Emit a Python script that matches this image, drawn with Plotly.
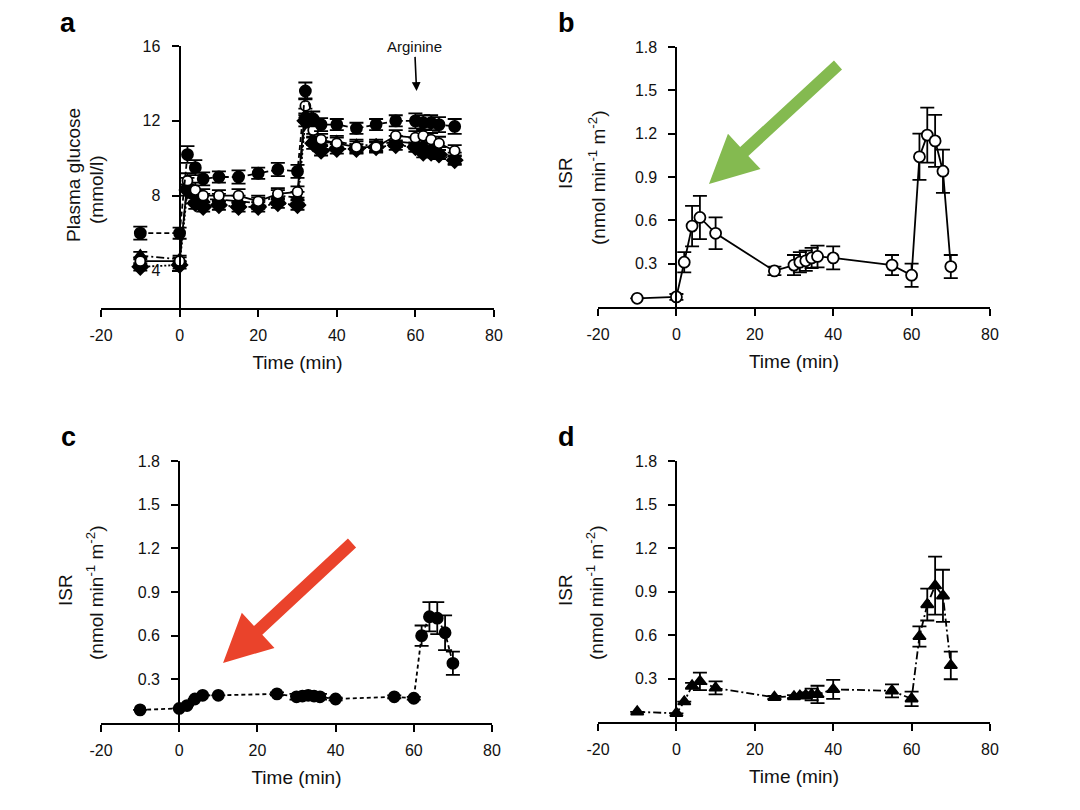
import math
import plotly.graph_objects as go

# time points (min)
t_glu = [-10, 0, 2, 4, 6, 10, 15, 20, 25, 30, 32, 34, 36, 40, 45, 50, 55, 60, 62, 64, 66, 70]
t_isr = [-10, 0, 2, 4, 6, 10, 25, 30, 31.5, 33, 34.5, 36, 40, 55, 60, 62, 64, 66, 68, 70]

# panel a - plasma glucose (mmol/l)
glu_circ = [6.0, 6.0, 10.2, 9.5, 8.9, 9.0, 9.0, 9.2, 9.4, 9.3, 13.6, 12.1, 11.8, 11.8, 11.6, 11.8, 12.0, 12.0, 11.9, 11.9, 11.8, 11.7]
glu_circ_err = [0.35, 0.3, 0.45, 0.4, 0.35, 0.3, 0.35, 0.3, 0.35, 0.35, 0.45, 0.4, 0.35, 0.3, 0.3, 0.3, 0.3, 0.4, 0.4, 0.4, 0.4, 0.4]
glu_open = [4.5, 4.5, 8.8, 8.3, 8.0, 8.0, 8.0, 7.7, 8.1, 8.2, 12.8, 11.5, 11.0, 10.8, 10.6, 10.6, 11.2, 11.1, 11.2, 11.0, 10.8, 10.4]
glu_open_err = [0.2, 0.2, 0.4, 0.4, 0.35, 0.3, 0.35, 0.3, 0.3, 0.3, 0.4, 0.35, 0.3, 0.3, 0.3, 0.3, 0.3, 0.35, 0.35, 0.35, 0.35, 0.3]
glu_tri = [4.8, 4.6, 8.6, 8.0, 7.8, 7.8, 7.7, 7.6, 8.0, 7.9, 12.3, 11.0, 10.8, 10.9, 10.7, 10.7, 10.9, 10.8, 10.7, 10.5, 10.3, 10.0]
glu_tri_err = [0.2, 0.2, 0.35, 0.3, 0.3, 0.3, 0.3, 0.3, 0.3, 0.3, 0.35, 0.3, 0.3, 0.3, 0.3, 0.3, 0.3, 0.3, 0.3, 0.3, 0.3, 0.3]
glu_dia = [4.2, 4.3, 8.3, 7.6, 7.4, 7.5, 7.4, 7.4, 7.6, 7.5, 12.0, 10.8, 10.4, 10.5, 10.5, 10.6, 10.7, 10.6, 10.3, 10.3, 10.2, 9.9]
glu_dia_err = [0.2, 0.2, 0.3, 0.3, 0.25, 0.25, 0.25, 0.25, 0.25, 0.25, 0.3, 0.3, 0.25, 0.25, 0.25, 0.25, 0.25, 0.25, 0.25, 0.25, 0.25, 0.25]

# panels b-d - insulin secretion rate (nmol min-1 m-2)
isr_b = [0.06, 0.07, 0.31, 0.56, 0.62, 0.51, 0.25, 0.29, 0.31, 0.32, 0.34, 0.35, 0.34, 0.29, 0.22, 1.04, 1.19, 1.15, 0.94, 0.28]
isr_b_err = [0.0, 0.02, 0.07, 0.14, 0.15, 0.11, 0.03, 0.07, 0.07, 0.07, 0.07, 0.075, 0.08, 0.07, 0.08, 0.16, 0.19, 0.18, 0.15, 0.08]
isr_c = [0.09, 0.10, 0.12, 0.165, 0.19, 0.19, 0.20, 0.18, 0.185, 0.19, 0.185, 0.18, 0.165, 0.18, 0.17, 0.60, 0.73, 0.72, 0.62, 0.41]
isr_c_err = [0, 0, 0, 0, 0, 0, 0.01, 0.02, 0.02, 0.03, 0.02, 0.02, 0.01, 0.01, 0.01, 0.07, 0.10, 0.11, 0.12, 0.08]
isr_d = [0.07, 0.06, 0.14, 0.25, 0.28, 0.235, 0.17, 0.175, 0.18, 0.185, 0.19, 0.19, 0.225, 0.215, 0.16, 0.59, 0.81, 0.94, 0.87, 0.39]
isr_d_err = [0, 0, 0, 0.02, 0.06, 0.045, 0.01, 0.01, 0.01, 0.02, 0.04, 0.06, 0.065, 0.045, 0.05, 0.07, 0.11, 0.20, 0.18, 0.095]

x_ticks = [-20, 0, 20, 40, 60, 80]
x_ticktext = ['-20', '0', '20', '40', '60', '80']
glu_ticks = [4, 8, 12, 16]
isr_ticks = [0.3, 0.6, 0.9, 1.2, 1.5, 1.8]

# the page body adds an 8px margin, so the figure is 8px smaller than the window on each side
OFF = 8
W, H = 1080 - OFF, 810 - OFF
FONT = 'Liberation Sans, Arial, sans-serif'
INK = '#111111'


def px_x(px):
    return (px - OFF) / W


def px_y(py):
    return 1 - (py - OFF) / H


# panel domains in paper units (x0, x1, y0, y1), from window pixel positions
dom = {
    '': (px_x(101), px_x(494), px_y(308), px_y(46)),
    '2': (px_x(598), px_x(990), px_y(307), px_y(47)),
    '3': (px_x(101), px_x(492), px_y(723), px_y(461)),
    '4': (px_x(598), px_x(990), px_y(722), px_y(461)),
}

fig = go.Figure()


def add_series(sfx, x, y, err, symbol, dash, fill='black', size=10, width=1.8):
    fig.add_trace(go.Scatter(
        x=x, y=y, mode='lines+markers', xaxis='x' + sfx, yaxis='y' + sfx,
        line=dict(color='black', width=width, dash=dash),
        marker=dict(symbol=symbol, size=size, color=fill, line=dict(color='black', width=1.8)),
        error_y=dict(type='data', array=err, visible=True, color='black', thickness=1.8, width=7),
        showlegend=False, hoverinfo='x+y'))


# panel a
add_series('', t_glu, glu_dia, glu_dia_err, 'diamond', '2px,2px', size=12)
add_series('', t_glu, glu_tri, glu_tri_err, 'triangle-up', '8px,3px,2px,3px', size=11)
add_series('', t_glu, glu_open, glu_open_err, 'circle', 'solid', fill='white', size=10)
add_series('', t_glu, glu_circ, glu_circ_err, 'circle', '5px,3px', size=11)
# panels b, c, d
add_series('2', t_isr, isr_b, isr_b_err, 'circle', 'solid', fill='white', size=11)
add_series('3', t_isr, isr_c, isr_c_err, 'circle', '4px,3px', size=11)
add_series('4', t_isr, isr_d, isr_d_err, 'triangle-up', '8px,3px,2px,3px', size=11)

layout = dict(
    width=W, height=H, margin=dict(l=0, r=0, t=0, b=0, autoexpand=False),
    paper_bgcolor='white', plot_bgcolor='white',
    font=dict(family=FONT, color=INK, size=16),
    showlegend=False,
)

for sfx, (x0, x1, y0, y1) in dom.items():
    glu = sfx == ''
    layout['xaxis' + sfx] = dict(
        domain=[x0, x1], range=[-20, 80], anchor='y' + sfx, automargin=False,
        tickvals=x_ticks, ticktext=x_ticktext,
        showline=True, linecolor='black', linewidth=2,
        ticks='outside', ticklen=7, tickwidth=2, tickcolor='black',
        ticklabelstandoff=5,
        showgrid=False, zeroline=False,
        title=dict(text='Time (min)', font=dict(size=19), standoff=12),
        tickfont=dict(size=16),
    )
    layout['yaxis' + sfx] = dict(
        domain=[y0, y1], range=[2, 16] if glu else [0, 1.8], automargin=False,
        anchor='free', position=x0 + 0.2 * (x1 - x0), side='left',
        tickvals=glu_ticks if glu else isr_ticks,
        ticktext=[str(v) for v in (glu_ticks if glu else isr_ticks)],
        showline=True, linecolor='black', linewidth=2,
        ticks='outside', ticklen=7, tickwidth=2, tickcolor='black',
        ticklabelstandoff=8,
        showgrid=False, zeroline=False,
        tickfont=dict(size=16),
    )

fig.update_layout(**layout)

# y axis titles and panel letters
ann = []
isr_title = '(nmol min<sup>-1</sup> m<sup>-2</sup>)'
for txt, px, py in [('Plasma glucose', 74, 175), ('(mmol/l)', 97, 190),
                    ('ISR', 565, 173), (isr_title, 597, 178),
                    ('ISR', 65, 590), (isr_title, 95, 593),
                    ('ISR', 565, 590), (isr_title, 595, 593)]:
    ann.append(dict(text=txt, x=px_x(px), y=px_y(py), xref='paper', yref='paper',
                    textangle=-90, showarrow=False, font=dict(size=19),
                    xanchor='center', yanchor='middle'))
for txt, px, py in [('a', 68, 23), ('b', 566, 23), ('c', 68, 437), ('d', 566, 437)]:
    ann.append(dict(text='<b>%s</b>' % txt, x=px_x(px), y=px_y(py), xref='paper', yref='paper',
                    showarrow=False, font=dict(size=27, color='black'),
                    xanchor='center', yanchor='middle'))
# arginine marker
ann.append(dict(text='Arginine', x=60.3, y=13.6, xref='x', yref='y', ax=-2, ay=-44,
                showarrow=True, arrowhead=2, arrowsize=1.1, arrowwidth=1.6, arrowcolor='black',
                font=dict(size=15, color=INK)))
fig.update_layout(annotations=ann)


# thick coloured highlight arrows (window pixel geometry -> paper coords)
def arrow_path(tail, tip, shaft=12, head_len=48, head_half=24):
    (x0, y0), (x1, y1) = tail, tip
    L = math.hypot(x1 - x0, y1 - y0)
    ux, uy = (x1 - x0) / L, (y1 - y0) / L
    nx, ny = -uy, ux
    bx, by = x1 - ux * head_len, y1 - uy * head_len
    s = shaft / 2
    pts = [(x0 + nx * s, y0 + ny * s), (bx + nx * s, by + ny * s),
           (bx + nx * head_half, by + ny * head_half), (x1, y1),
           (bx - nx * head_half, by - ny * head_half), (bx - nx * s, by - ny * s),
           (x0 - nx * s, y0 - ny * s)]
    return 'M ' + ' L '.join('%.4f,%.4f' % (px_x(px), px_y(py)) for px, py in pts) + ' Z'


fig.add_shape(type='path', path=arrow_path((838, 65), (709, 184)), xref='paper', yref='paper',
              fillcolor='#84BA50', line=dict(width=0))
fig.add_shape(type='path', path=arrow_path((352, 543), (223, 663)), xref='paper', yref='paper',
              fillcolor='#EA432B', line=dict(width=0))

fig.write_html("out.html")
